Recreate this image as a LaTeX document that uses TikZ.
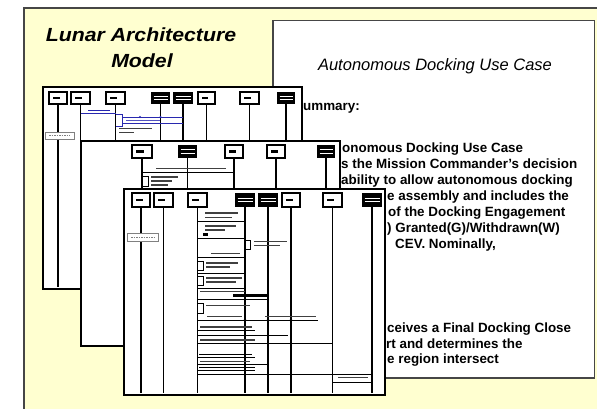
\documentclass[tikz,border=0pt]{standalone}
\usepackage{fontspec}
\setmainfont{Liberation Sans}
\newfontfamily\titlef[FakeStretch=1.12]{Liberation Sans}
\definecolor{panelyellow}{RGB}{255,255,208}
\definecolor{edgegray}{RGB}{70,70,70}
\definecolor{msgblue}{RGB}{40,40,175}
\newcommand{\hdrboxes}[4]{%
  \foreach \a/\b in {#3} {\draw[hbw] (\a,#1) rectangle (\b,#2);
    \fill (\a+3.5,{(#1+#2)/2-1.3}) rectangle ({(\a+\b)/2+1.5},{(#1+#2)/2+1.3});}
  \foreach \a/\b in {#4} {\fill (\a,#1) rectangle (\b,#2);
    \draw[white,line width=0.9pt] (\a+2.5,{(#1+#2)/2-1.9}) -- (\b-2.5,{(#1+#2)/2-1.9})
      (\a+2.5,{(#1+#2)/2+1.9}) -- (\b-2.5,{(#1+#2)/2+1.9});}
}
\begin{document}
\begin{tikzpicture}[x=1pt,y=-1pt,
  win/.style={draw=black,line width=2.6pt,fill=white},
  hbw/.style={draw=black,line width=1.2pt,fill=white},
  life/.style={draw=black,line width=1.4pt},
  scrib/.style={draw=gray!70,line width=1.1pt},
  dscrib/.style={draw=black!75,line width=1.1pt},
  msg/.style={draw=black,line width=0.9pt},
  bmsg/.style={draw=msgblue,line width=0.9pt},
  notebox/.style={draw=gray,line width=0.8pt,fill=white},
  bodytext/.style={anchor=base west,inner sep=0pt,font=\bfseries\fontsize{13.4}{15}\selectfont},
]
\useasboundingbox (0,0) rectangle (597,408);
\clip (0,0) rectangle (597,408);
% outer slide panel
\fill[panelyellow] (24,8) rectangle (610,420);
\draw[edgegray,line width=1.2pt] (24,420) -- (24,8) -- (610,8);
% document page
\draw[edgegray,line width=1.6pt,fill=white] (273,20.5) rectangle (594.5,378);
% titles
\node[anchor=base,inner sep=0pt,font=\titlef\bfseries\itshape\fontsize{19}{22}\selectfont] (t1) at (141,41) {Lunar Architecture};
\node[anchor=base,inner sep=0pt,font=\titlef\bfseries\itshape\fontsize{19}{22}\selectfont] (t2) at (142,67) {Model};
\node[anchor=base,inner sep=0pt,font=\itshape\fontsize{16.5}{19}\selectfont] (doc) at (435,70) {Autonomous Docking Use Case};
\node[bodytext] (sum) at (303,110) {ummary:};
\node[bodytext] (l1) at (342,152) {onomous Docking Use Case};
\node[bodytext] (l2) at (341,168) {s the Mission Commander's decision};
\node[bodytext] (l3) at (341,184) {ability to allow autonomous docking};
\node[bodytext] (l4) at (387,200) {e assembly and includes the};
\node[bodytext] (l5) at (388,216) {of the Docking Engagement};
\node[bodytext] (l6) at (387,232) {) Granted(G)/Withdrawn(W)};
\node[bodytext] (l7) at (395,248) {CEV. Nominally,};
\node[bodytext] (l8) at (387,332) {ceives a Final Docking Close};
\node[bodytext] (l9) at (386,348) {rt and determines the};
\node[bodytext] (l10) at (387,363) {e region intersect};
% ---------- window 1 ----------
\draw[win] (43,87) rectangle (302,289);
\foreach \x in {58,80.5,115.5,160.5,183,206.5,249.5,286} \draw[life] (\x,104) -- (\x,287);
\hdrboxes{92}{104}{49/67,71/90,106/125,198/215,240/259}{151/170,173/193,277/295}
\draw[notebox] (45,132) rectangle (74,139);
\draw[gray,line width=0.8pt,dash pattern=on 1.5pt off 1pt] (49,135.5) -- (70,135.5);
\draw[bmsg] (80.5,113.5) -- (115.5,113.5);
\draw[msgblue,line width=1pt] (88,110.8) -- (110,110.8);
\draw[msgblue,line width=0.9pt] (115.5,114) -- (122,114) -- (122,126) -- (115.5,126);
\draw[bmsg] (122,117) -- (183,117);
\draw[bmsg] (122,123) -- (183,123);
\draw[msgblue!80,line width=1pt] (126,120) -- (160,120);
\fill[msgblue] (140,117) circle (1.1) (160.5,117) circle (1.1);
\draw[dscrib] (119,128.5) -- (152,128.5) (119,132.5) -- (134,132.5);
% ---------- window 2 ----------
\draw[win] (81,141) rectangle (340,346);
\foreach \x in {142,187.5,234,276,326} \draw[life] (\x,158) -- (\x,344);
\hdrboxes{145}{158}{132/152,225/243,267/285}{178/197,317/335}
\draw[dscrib] (156,168.8) -- (226,168.8);
\draw[msg] (142,172) -- (234,172);
\draw[msg] (142,176) -- (148,176) -- (148,186) -- (142,186);
\draw[dscrib] (151,177) -- (178,177) (151,181) -- (172,181) (151,185) -- (168,185);
% ---------- window 3 ----------
\draw[win] (124,189) rectangle (385,395);
\foreach \x in {141,163.5,197.5,245,268,291,332.5,372} \draw[life] (\x,207) -- (\x,393);
\hdrboxes{193}{207}{132/150,154/173,188/207,282/300,323/342}{235/255,258/278,362/382}
\draw[notebox] (127,233) rectangle (158,241);
\draw[gray,line width=0.8pt,dash pattern=on 1.5pt off 1pt] (131,237) -- (154,237);
% activity column
\draw[dscrib] (205,213) -- (238,213) (205,217.5) -- (232,217.5);
\draw[msg] (197.5,221.5) -- (245,221.5);
\draw[dscrib] (205,226) -- (236,226) (205,230) -- (225,230);
\fill (203,232.5) rectangle (207.5,236);
\draw[msg] (197.5,238) -- (245,238);
\draw[msg] (245,240) -- (250,240) -- (250,249) -- (245,249);
\draw[dscrib] (254,241.5) -- (287,241.5) (254,245.5) -- (280,245.5);
\draw[dscrib] (211,253.5) -- (240,253.5);
\draw[msg] (197.5,257.5) -- (245,257.5);
\draw[msg] (197.5,261) -- (203,261) -- (203,270) -- (197.5,270);
\draw[dscrib] (206,263) -- (238,263) (206,267) -- (230,267);
\draw[msg] (197.5,273.5) -- (245,273.5);
\draw[msg] (197.5,276) -- (203,276) -- (203,285) -- (197.5,285);
\draw[dscrib] (206,278) -- (242,278) (206,282) -- (236,282);
\draw[msg] (197.5,288) -- (245,288);
\draw[dscrib] (200,291.5) -- (245,291.5);
\draw[black,line width=2.4pt] (233,295.5) -- (268,295.5);
\draw[msg] (197.5,299) -- (268,299);
\draw[msg] (197.5,303) -- (203,303) -- (203,313) -- (197.5,313);
\draw[dscrib] (206,305.5) -- (250,305.5);
\draw[dscrib] (207,316.5) -- (242,316.5) (265,316.5) -- (316,316.5);
\draw[msg] (197.5,320) -- (318,320);
\fill (245,320) circle (1.3) (268,320) circle (1.3) (291,320) circle (1.3);
\draw[dscrib] (200,327) -- (252,327);
\draw[msg] (197.5,330) -- (255,330);
\draw[msg] (197.5,335) -- (288,335);
\draw[dscrib] (200,340) -- (255,340);
\draw[msg] (197.5,343) -- (332.5,343);
\draw[black,line width=1.6pt] (199,354.5) -- (252,354.5);
\draw[msg] (197.5,357) -- (255,357);
\draw[dscrib] (200,361.5) -- (250,361.5);
\draw[msg] (197.5,364.5) -- (268,364.5);
\draw[black,line width=1.4pt] (199,367.5) -- (255,367.5);
\draw[msg] (197.5,370) -- (255,370);
\draw[msg] (197.5,374) -- (372,374);
\draw[dscrib] (338,377.5) -- (368,377.5);
\draw[msg] (332.5,382) -- (372,382);
\end{tikzpicture}
\end{document}
